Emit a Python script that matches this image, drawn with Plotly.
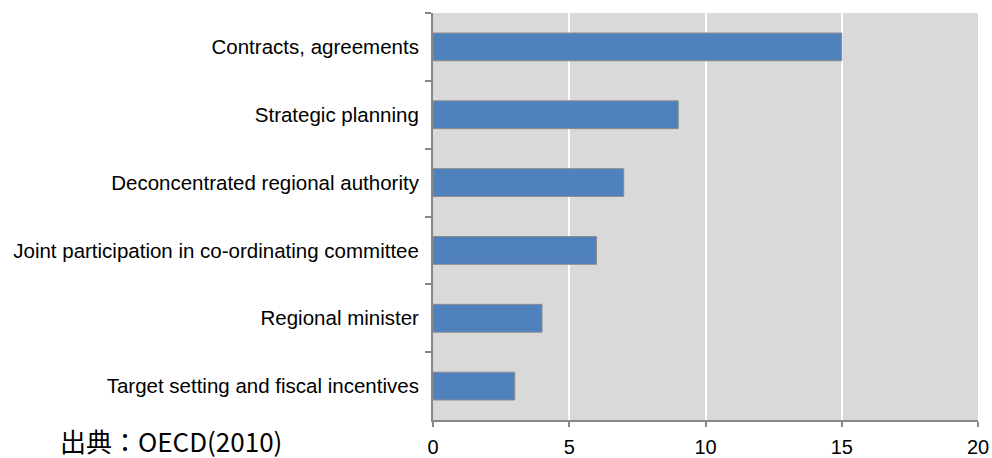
import plotly.graph_objects as go

categories = [
    "Contracts, agreements",
    "Strategic planning",
    "Deconcentrated regional authority",
    "Joint participation in co-ordinating committee",
    "Regional minister",
    "Target setting and fiscal incentives",
]
values = [15, 9, 7, 6, 4, 3]
x_ticks = [0, 5, 10, 15, 20]
source_text = "出典：OECD(2010)"

fig = go.Figure(
    go.Bar(
        y=categories,
        x=values,
        orientation="h",
        width=0.41,
        marker=dict(color="#4F81BD", line=dict(color="#8C8C8C", width=1)),
        hoverinfo="x+y",
    )
)

axis_gray = "#868686"
fig.update_layout(
    width=992,
    height=458,
    margin=dict(l=433, r=14, t=13, b=38, autoexpand=False),
    paper_bgcolor="white",
    plot_bgcolor="#D9D9D9",
    showlegend=False,
    font=dict(family="Liberation Sans, Arial, sans-serif", size=20, color="#000000"),
    xaxis=dict(
        range=[0, 20],
        tickvals=x_ticks,
        ticktext=[str(v) for v in x_ticks],
        showgrid=True,
        gridcolor="white",
        gridwidth=2,
        zeroline=False,
        showline=True,
        linecolor=axis_gray,
        linewidth=2,
        ticks="outside",
        ticklen=5,
        tickwidth=2,
        tickcolor=axis_gray,
        tickfont=dict(size=20),
        ticklabelstandoff=3,
        automargin=False,
        fixedrange=True,
    ),
    yaxis=dict(
        categoryorder="array",
        categoryarray=categories,
        autorange="reversed",
        showgrid=False,
        zeroline=False,
        showline=True,
        linecolor=axis_gray,
        linewidth=2,
        ticks="outside",
        tickson="boundaries",
        ticklen=6,
        tickwidth=2,
        tickcolor=axis_gray,
        ticklabelstandoff=8,
        tickfont=dict(size=20.5),
        automargin=False,
        fixedrange=True,
    ),
    annotations=[
        dict(
            text=source_text,
            xref="paper",
            yref="paper",
            x=-433 / 545,
            y=0,
            xshift=59,
            yshift=-1,
            xanchor="left",
            yanchor="top",
            borderpad=0,
            showarrow=False,
            font=dict(family="Noto Sans CJK JP", size=26, color="#000000"),
        )
    ],
)

fig.write_html("out.html")
